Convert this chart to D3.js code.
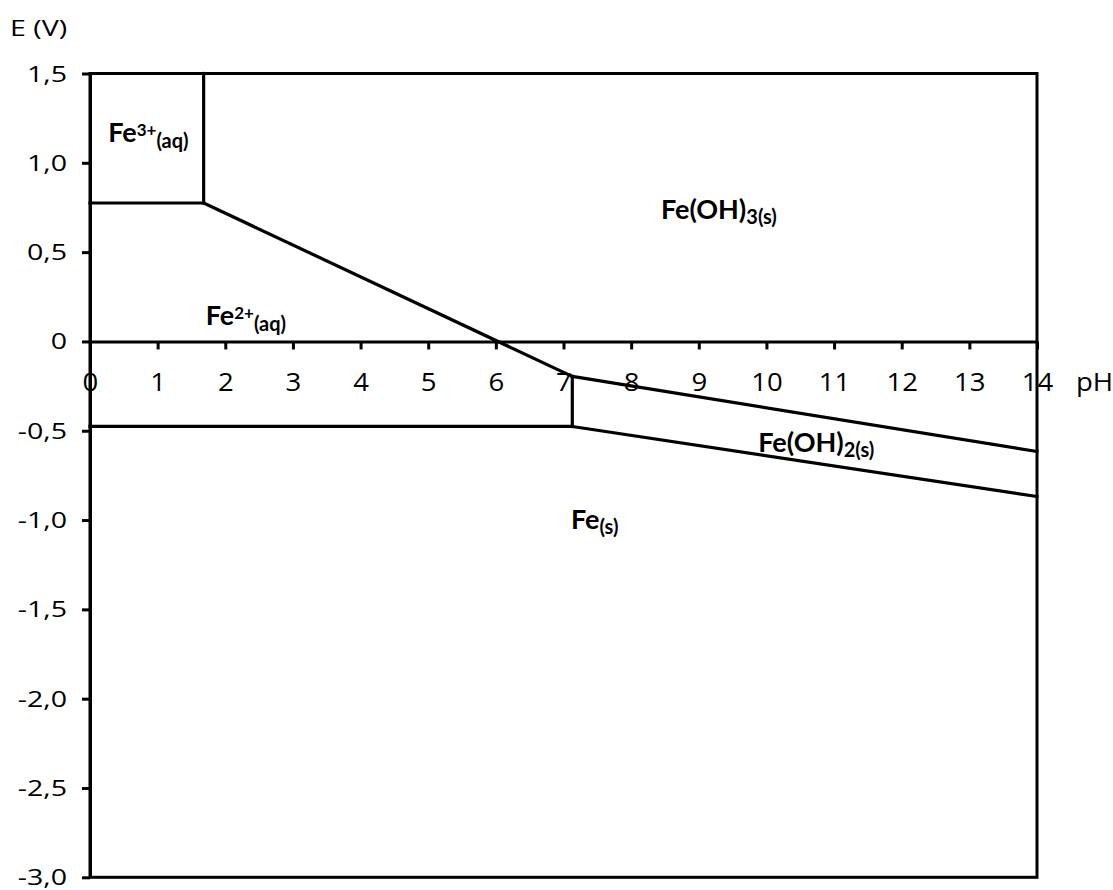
<!DOCTYPE html>
<html>
<head>
<meta charset="utf-8">
<script src="https://cdn.jsdelivr.net/npm/d3@7"></script>
<style>
  html, body { margin: 0; padding: 0; background: #fff; }
  svg { display: block; font-family: "Open Sans", sans-serif; }
</style>
</head>
<body>
<svg id="chart" width="1113" height="890"></svg>
<script>
// ---- data (pH, E in V) ----
const xTicks = [0,1,2,3,4,5,6,7,8,9,10,11,12,13,14];
const yTicks = [1.5,1.0,0.5,0,-0.5,-1.0,-1.5,-2.0,-2.5,-3.0];
const fe3Fe2 = [[0, 0.775], [1.68, 0.775]];
const fe3FeOH3 = [[1.68, 0.775], [1.68, 1.5]];
const fe2FeOH3 = [[1.68, 0.775], [7.13, -0.196]];
const feOH3FeOH2 = [[7.13, -0.196], [14, -0.616]];
const fe2FeOH2 = [[7.13, -0.196], [7.13, -0.476]];
const fe2Fe = [[0, -0.476], [7.13, -0.476]];
const feOH2Fe = [[7.13, -0.476], [14, -0.868]];
const boundaries = [fe3Fe2, fe3FeOH3, fe2FeOH3, feOH3FeOH2, fe2FeOH2, fe2Fe, feOH2Fe];
// species labels: main text, superscript, subscript, anchor point (pH, E)
const species = [
  {main: "Fe", sup: "3+", sub: "(aq)", pH: 0.27, E: 1.118},
  {main: "Fe", sup: "2+", sub: "(aq)", pH: 1.71, E: 0.092},
  {main: "Fe(OH)", sup: "", sub: "3(s)", pH: 8.44, E: 0.684},
  {main: "Fe(OH)", sup: "", sub: "2(s)", pH: 9.88, E: -0.617},
  {main: "Fe", sup: "", sub: "(s)", pH: 7.11, E: -1.052}
];

const svg = d3.select("#chart");
const x = d3.scaleLinear().domain([0, 14]).range([90, 1037]);
const y = d3.scaleLinear().domain([-3, 1.5]).range([877.3, 73.5]);
const fmt = d => d === 0 ? "0" : d.toFixed(1).replace(".", ",");

const ySX = 1.36;  // horizontal stretch of the y-axis lettering
const xSX = 1.06;  // horizontal stretch of the x-axis lettering

// frame
svg.append("rect")
  .attr("x", x(0)).attr("y", y(1.5))
  .attr("width", x(14) - x(0)).attr("height", y(-3) - y(1.5))
  .attr("fill", "none").attr("stroke", "#000").attr("stroke-width", 3);

// y axis
const yAxis = svg.append("g").attr("transform", `translate(${x(0)},0)`)
  .call(d3.axisLeft(y).tickValues(yTicks).tickFormat(fmt).tickSize(8).tickSizeOuter(0).tickPadding(15));
yAxis.select(".domain").attr("stroke-width", 3);
yAxis.selectAll(".tick line").attr("stroke-width", 3);
yAxis.selectAll("text")
  .attr("font-size", 21).attr("fill", "#000")
  .style("font-family", "'Open Sans', sans-serif")
  .attr("x", -23 / ySX).attr("dy", "0.36em")
  .attr("transform", `scale(${ySX},1)`);

// x axis at E = 0
const xAxis = svg.append("g").attr("transform", `translate(0,${y(0)})`)
  .call(d3.axisBottom(x).tickValues(xTicks).tickFormat(d => d).tickSize(8).tickSizeOuter(0).tickPadding(23));
xAxis.select(".domain").attr("stroke-width", 3);
xAxis.selectAll(".tick line").attr("stroke-width", 3);
xAxis.selectAll("text")
  .attr("font-size", 26).attr("fill", "#000")
  .style("font-family", "'Open Sans', sans-serif")
  .attr("transform", `scale(${xSX},1)`);

// axis titles
svg.append("text").attr("transform", `translate(10,36) scale(${ySX},1)`)
  .attr("font-size", 21).text("E (V)");
svg.append("text").attr("transform", `translate(1076,${y(0) + 50}) scale(${xSX},1)`)
  .attr("font-size", 26).text("pH");

// boundaries
const line = d3.line().x(d => x(d[0])).y(d => y(d[1]));
svg.append("g").selectAll("path").data(boundaries).join("path")
  .attr("d", line).attr("fill", "none").attr("stroke", "#000")
  .attr("stroke-width", 3.2).attr("stroke-linecap", "square");

// species labels
const lab = svg.append("g").selectAll("text").data(species).join("text")
  .attr("x", d => x(d.pH)).attr("y", d => y(d.E))
  .style("font-family", "Lato, sans-serif")
  .attr("font-size", 27).attr("font-weight", "bold");
lab.append("tspan").text(d => d.main);
lab.each(function(d) {
  const t = d3.select(this);
  if (d.sup) {
    t.append("tspan").attr("font-size", 17).attr("dy", -6).text(d.sup);
    t.append("tspan").attr("font-size", 20).attr("dy", 12).text(d.sub);
  } else {
    t.append("tspan").attr("font-size", 20).attr("dy", 5).text(d.sub);
  }
});
</script>
</body>
</html>
